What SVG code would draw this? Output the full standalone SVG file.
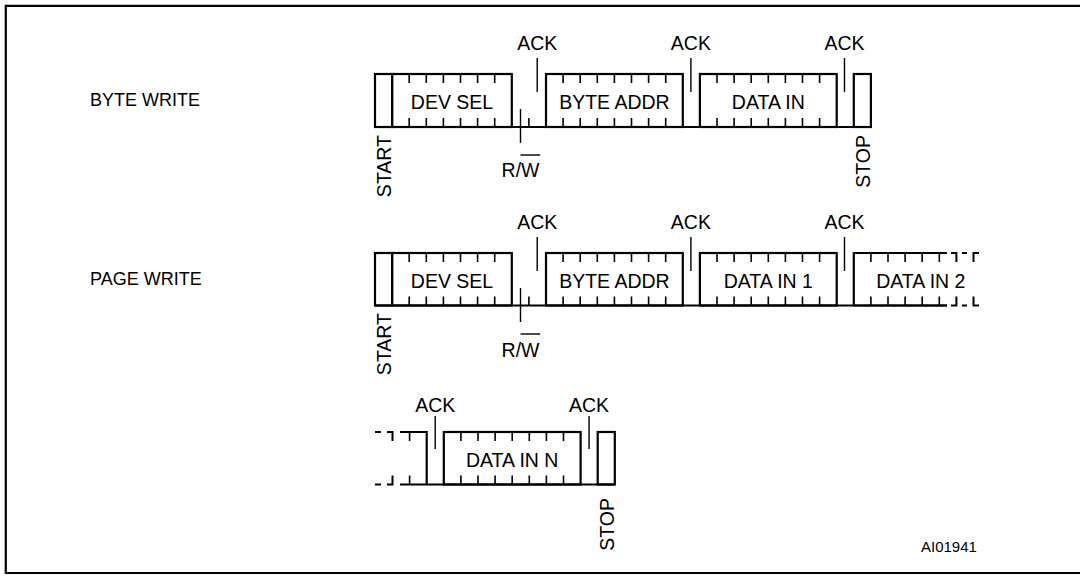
<svg xmlns="http://www.w3.org/2000/svg" width="1080" height="579" viewBox="0 0 1080 579">
<style>
.frame{fill:none;stroke:#000;stroke-width:2.2}
.box{fill:none;stroke:#000;stroke-width:2.2;stroke-linejoin:miter}
.base{fill:none;stroke:#000;stroke-width:2.2}
.tick{fill:none;stroke:#000;stroke-width:1.6}
.mark{fill:none;stroke:#000;stroke-width:1.4}
.dash{fill:none;stroke:#000;stroke-width:2}
.t{font-family:"Liberation Sans",Arial,Helvetica,sans-serif;font-size:19.5px;fill:#000}
.lbl{font-family:"Liberation Sans",Arial,Helvetica,sans-serif;font-size:18px;fill:#000}
.c{text-anchor:middle}
.v{text-anchor:end}
.s{font-family:"Liberation Sans",Arial,Helvetica,sans-serif;font-size:15px;fill:#000}
</style>
<rect width="1080" height="579" fill="#fff"/>
<path class="frame" d="M1080,5.8 H5.8 V573 H1080"/>

<!-- Row labels -->
<text class="lbl" x="90" y="106">BYTE WRITE</text>
<text class="lbl" x="90" y="285">PAGE WRITE</text>

<!-- ===== Row 1: BYTE WRITE (T=74, B=127) ===== -->
<g id="bw-start"><rect class="box" x="375" y="74" width="17.1" height="53"/>
<text class="t v" transform="translate(391,135) rotate(-90)">START</text></g>
<g id="bw-devsel"><rect class="box" x="392.1" y="74" width="119.7" height="53"/>
<path class="tick" d="M409.2,74v9M426.3,74v9M443.4,74v9M460.5,74v9M477.6,74v9M494.7,74v9M409.2,127v-9M426.3,127v-9M443.4,127v-9M460.5,127v-9M477.6,127v-9M494.7,127v-9M528.9,127v-9"/>
<text class="t c" x="452" y="109">DEV SEL</text></g>
<g id="bw-byteaddr"><rect class="box" x="546" y="74" width="136.8" height="53"/>
<path class="tick" d="M563.1,74v9M580.2,74v9M597.3,74v9M614.4,74v9M631.5,74v9M648.6,74v9M665.7,74v9M563.1,127v-9M580.2,127v-9M597.3,127v-9M614.4,127v-9M631.5,127v-9M648.6,127v-9M665.7,127v-9"/>
<text class="t c" x="614.4" y="109">BYTE ADDR</text></g>
<g id="bw-datain"><rect class="box" x="699.9" y="74" width="136.8" height="53"/>
<path class="tick" d="M717,74v9M734.1,74v9M751.2,74v9M768.3,74v9M785.4,74v9M802.5,74v9M819.6,74v9M717,127v-9M734.1,127v-9M751.2,127v-9M768.3,127v-9M785.4,127v-9M802.5,127v-9M819.6,127v-9"/>
<text class="t c" x="768.3" y="109">DATA IN</text></g>
<g id="bw-stop"><rect class="box" x="853.8" y="74" width="17.1" height="53"/>
<text class="t v" transform="translate(870,135) rotate(-90)">STOP</text></g>
<g id="bw-labels">
<text class="t c" x="537.2" y="50">ACK</text>
<text class="t c" x="690.9" y="50">ACK</text>
<text class="t c" x="844.5" y="50">ACK</text>
<text class="t c" x="520.5" y="176.7">R/W</text>
<path class="mark" d="M520.5,155H540.2"/>
</g>

<!-- ===== Row 2: PAGE WRITE (T=253, B=305.5) ===== -->
<g id="pw-start"><rect class="box" x="375" y="253" width="17.1" height="52.5"/>
<text class="t v" transform="translate(391,313) rotate(-90)">START</text></g>
<g id="pw-devsel"><rect class="box" x="392.1" y="253" width="119.7" height="52.5"/>
<path class="tick" d="M409.2,253v9M426.3,253v9M443.4,253v9M460.5,253v9M477.6,253v9M494.7,253v9M409.2,305.5v-9M426.3,305.5v-9M443.4,305.5v-9M460.5,305.5v-9M477.6,305.5v-9M494.7,305.5v-9M528.9,305.5v-9"/>
<text class="t c" x="452" y="288">DEV SEL</text></g>
<g id="pw-byteaddr"><rect class="box" x="546" y="253" width="136.8" height="52.5"/>
<path class="tick" d="M563.1,253v9M580.2,253v9M597.3,253v9M614.4,253v9M631.5,253v9M648.6,253v9M665.7,253v9M563.1,305.5v-9M580.2,305.5v-9M597.3,305.5v-9M614.4,305.5v-9M631.5,305.5v-9M648.6,305.5v-9M665.7,305.5v-9"/>
<text class="t c" x="614.4" y="288">BYTE ADDR</text></g>
<g id="pw-datain1"><rect class="box" x="699.9" y="253" width="136.8" height="52.5"/>
<path class="tick" d="M717,253v9M734.1,253v9M751.2,253v9M768.3,253v9M785.4,253v9M802.5,253v9M819.6,253v9M717,305.5v-9M734.1,305.5v-9M751.2,305.5v-9M768.3,305.5v-9M785.4,305.5v-9M802.5,305.5v-9M819.6,305.5v-9"/>
<text class="t c" x="768.3" y="288">DATA IN 1</text></g>
<g id="pw-datain2">
<path class="box" d="M947,253H853.8V305.5H947"/>
<path class="tick" d="M870.9,253v9M888,253v9M905.1,253v9M922.2,253v9M939.3,253v9M870.9,305.5v-9M888,305.5v-9M905.1,305.5v-9M922.2,305.5v-9M939.3,305.5v-9"/>
<path class="dash" d="M951,253H956.4V262M962,253H967M979,253H973.5V262M951,305.5H956.4V296.5M962,305.5H967M979,305.5H973.5V296.5"/>
<text class="t c" x="920.8" y="288">DATA IN 2</text></g>
<g id="pw-labels">
<text class="t c" x="537.2" y="228.5">ACK</text>
<text class="t c" x="690.9" y="228.5">ACK</text>
<text class="t c" x="844.5" y="228.5">ACK</text>
<text class="t c" x="520.5" y="356.7">R/W</text>
<path class="mark" d="M520.5,334H540.2"/>
</g>

<!-- ===== Row 3: continuation (T=432, B=484.5) ===== -->
<g id="pn-prev">
<path class="dash" d="M375,432H381M387,432H392.5V441M375,484.5H381M387,484.5H392.5V475.5"/>
<path class="box" d="M400,432H426.7V484.5"/>
<path class="tick" d="M409.6,432v9M409.6,484.5v-9"/>
</g>
<g id="pn-datainn"><rect class="box" x="443.8" y="432" width="136.8" height="52.5"/>
<path class="tick" d="M460.9,432v9M478,432v9M495.1,432v9M512.2,432v9M529.3,432v9M546.4,432v9M563.5,432v9M460.9,484.5v-9M478,484.5v-9M495.1,484.5v-9M512.2,484.5v-9M529.3,484.5v-9M546.4,484.5v-9M563.5,484.5v-9"/>
<text class="t c" x="512.2" y="467.3">DATA IN N</text></g>
<g id="pn-stop"><rect class="box" x="597.7" y="432" width="17.1" height="52.5"/>
<text class="t v" transform="translate(613.5,498) rotate(-90)">STOP</text></g>
<g id="pn-labels">
<text class="t c" x="435.2" y="411.7">ACK</text>
<text class="t c" x="589.1" y="411.7">ACK</text>
</g>

<!-- connectors: baselines, ACK and R/W markers -->
<g id="connectors">
<path class="base" d="M375,127H870.9M375,305.5H947M400,484.5H614.8"/>
<path class="mark" d="M537.2,58v34M690.9,58v34M844.5,58v34M520.5,109v34M537.2,237v34M690.9,237v34M844.5,237v34M520.5,288v34M435.2,416v33M589.1,416v33"/>
</g>

<text class="s" x="921" y="551.7">AI01941</text>
</svg>
